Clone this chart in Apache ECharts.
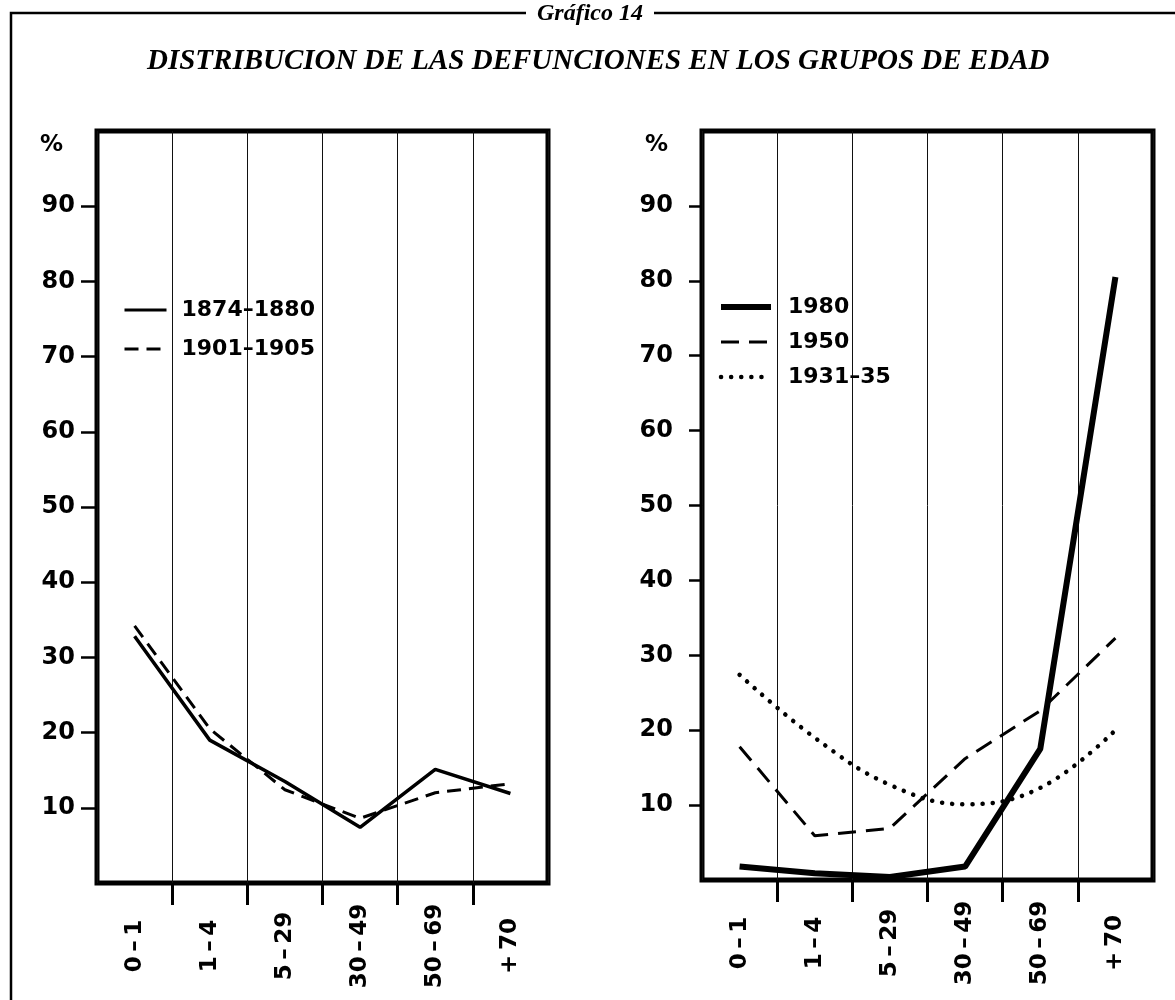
<!DOCTYPE html>
<html>
<head>
<meta charset="utf-8">
<title>Gráfico 14</title>
<script src="https://cdn.jsdelivr.net/npm/echarts@6/dist/echarts.min.js"></script>
<style>
  html, body { margin: 0; padding: 0; background: #fff; }
  #chart { width: 1175px; height: 1000px; }
</style>
</head>
<body>
<div id="chart"></div>
<script>
// age groups on the x axis (thin spaces around the dash)
const ageGroups = ['0\u2009–\u20091', '1\u2009–\u20094', '5\u2009–\u200929', '30\u2009–\u200949', '50\u2009–\u200969', '+\u200970'];
const yTicks = [10, 20, 30, 40, 50, 60, 70, 80, 90];

// left panel, % of deaths
const deaths1874 = [32.8, 19.0, 13.5, 7.4, 15.1, 11.9];
const deaths1901 = [34.2, 20.5, 12.4, 8.6, 12.0, 13.2];

// right panel, % of deaths
const deaths1980 = [1.8, 0.9, 0.4, 1.8, 17.5, 80.5];
const deaths1950 = [17.8, 5.9, 6.9, 16.2, 22.6, 32.3];
const deaths1931 = [27.4, 19.0, 12.7, 10.1, 12.3, 20.0];

const numFont = 'DejaVu Sans';
const serif = 'Liberation Serif';

function catAxis(gridIndex) {
  return {
    type: 'category',
    gridIndex: gridIndex,
    data: ageGroups,
    boundaryGap: true,
    axisLine: { show: false },
    axisTick: { show: false },
    splitLine: { show: true, lineStyle: { color: '#111', width: 1 } },
    axisLabel: {
      interval: 0,
      rotate: 90,
      align: 'center',
      verticalAlign: 'middle',
      margin: 63,
      fontFamily: numFont,
      fontWeight: 'bold',
      fontSize: 23,
      color: '#000'
    }
  };
}

// only draws the tick marks under the inner band boundaries
function tickAxis(gridIndex) {
  return {
    type: 'category',
    gridIndex: gridIndex,
    position: 'bottom',
    boundaryGap: false,
    data: new Array(ageGroups.length + 1).fill(''),
    axisLine: { show: false },
    axisLabel: { show: false },
    splitLine: { show: false },
    axisTick: {
      show: true,
      length: 22,
      interval: function (i) { return i > 0 && i < ageGroups.length; },
      lineStyle: { color: '#000', width: 3 }
    }
  };
}

function valAxis(gridIndex, labelMargin, tickLen) {
  return {
    type: 'value',
    gridIndex: gridIndex,
    min: 0,
    max: 100,
    interval: 10,
    name: '%',
    nameLocation: 'end',
    nameGap: -14,
    nameTextStyle: {
      fontFamily: numFont, fontWeight: 'bold', fontSize: 23, color: '#000',
      align: 'right', verticalAlign: 'middle', padding: [0, 34, 0, 0]
    },
    axisLine: { show: false },
    splitLine: { show: false },
    axisTick: { show: true, length: tickLen, customValues: yTicks, lineStyle: { color: '#000', width: 2.5 } },
    axisLabel: {
      customValues: yTicks,
      margin: labelMargin,
      fontFamily: numFont,
      fontWeight: 'bold',
      fontSize: 24,
      color: '#000'
    }
  };
}

const legendText = {
  fontFamily: numFont, fontWeight: 'bold', fontSize: 22, color: '#000', lineHeight: 28
};
// hide the symbol dot in legend icons, keep only the line sample
const noDot = { color: 'rgba(0,0,0,0)', borderWidth: 0, opacity: 0 };

const option = {
  animation: false,
  backgroundColor: '#fff',
  color: ['#000'],
  title: {
    text: 'DISTRIBUCION DE LAS DEFUNCIONES EN LOS GRUPOS DE EDAD',
    left: 147,
    top: 47,
    padding: 0,
    textStyle: { fontFamily: serif, fontStyle: 'italic', fontWeight: 'bold', fontSize: 29, color: '#000' }
  },
  graphic: [
    { type: 'polyline', silent: true, shape: { points: [[11, 1002], [11, 13], [526, 13]] }, style: { stroke: '#000', lineWidth: 2.5, fill: null } },
    { type: 'line', silent: true, shape: { x1: 654, y1: 13, x2: 1176, y2: 13 }, style: { stroke: '#000', lineWidth: 2.5 } },
    { type: 'text', silent: true, style: { text: 'Gráfico 14', x: 590, y: 14, align: 'center', verticalAlign: 'middle', font: 'italic bold 24px "Liberation Serif"', fill: '#000' } }
  ],
  legend: [
    {
      left: 123, top: 296, orient: 'vertical', padding: 0,
      itemWidth: 42, itemHeight: 14, itemGap: 11, selectedMode: false,
      itemStyle: noDot,
      textStyle: Object.assign({ padding: [0, 0, 0, 10] }, legendText),
      data: [
        { name: '1874–1880', itemStyle: noDot, lineStyle: { color: '#000', width: 3, type: 'solid' } },
        { name: '1901–1905', itemStyle: noDot, lineStyle: { color: '#000', width: 3, type: [14, 8] } }
      ]
    },
    {
      left: 718, top: 293, orient: 'vertical', padding: 0,
      itemWidth: 50, itemHeight: 14, itemGap: 7, selectedMode: false,
      itemStyle: noDot,
      textStyle: Object.assign({ padding: [0, 0, 0, 12] }, legendText),
      data: [
        { name: '1980', itemStyle: noDot, lineStyle: { color: '#000', width: 6, type: 'solid' } },
        { name: '1950', itemStyle: noDot, lineStyle: { color: '#000', width: 3, type: [18, 10] } },
        { name: '1931–35', itemStyle: noDot, lineStyle: { color: '#000', width: 4.5, type: [0.1, 10], cap: 'round' } }
      ]
    }
  ],
  grid: [
    { left: 97, top: 131, width: 451, height: 752, show: true, borderColor: '#000', borderWidth: 5, backgroundColor: 'transparent' },
    { left: 702, top: 131, width: 451, height: 749, show: true, borderColor: '#000', borderWidth: 5, backgroundColor: 'transparent' }
  ],
  xAxis: [catAxis(0), tickAxis(0), catAxis(1), tickAxis(1)],
  yAxis: [valAxis(0, 22, 16), valAxis(1, 29, 13)],
  series: [
    {
      name: '1901–1905', type: 'line', xAxisIndex: 0, yAxisIndex: 0, data: deaths1901,
      symbol: 'none', itemStyle: { color: '#000' }, lineStyle: { color: '#000', width: 3, type: [14, 8] }
    },
    {
      name: '1874–1880', type: 'line', xAxisIndex: 0, yAxisIndex: 0, data: deaths1874,
      symbol: 'none', itemStyle: { color: '#000' }, lineStyle: { color: '#000', width: 3.5 }
    },
    {
      name: '1931–35', type: 'line', xAxisIndex: 2, yAxisIndex: 1, data: deaths1931,
      symbol: 'none', smooth: 0.4, itemStyle: { color: '#000' },
      lineStyle: { color: '#000', width: 4.5, type: [0.1, 10], cap: 'round' }
    },
    {
      name: '1950', type: 'line', xAxisIndex: 2, yAxisIndex: 1, data: deaths1950,
      symbol: 'none', itemStyle: { color: '#000' }, lineStyle: { color: '#000', width: 3, type: [18, 10] }
    },
    {
      name: '1980', type: 'line', xAxisIndex: 2, yAxisIndex: 1, data: deaths1980,
      symbol: 'none', itemStyle: { color: '#000' }, lineStyle: { color: '#000', width: 6 }
    }
  ]
};

const chart = echarts.init(document.getElementById('chart'), null, { renderer: 'canvas' });
chart.setOption(option);
</script>
</body>
</html>
